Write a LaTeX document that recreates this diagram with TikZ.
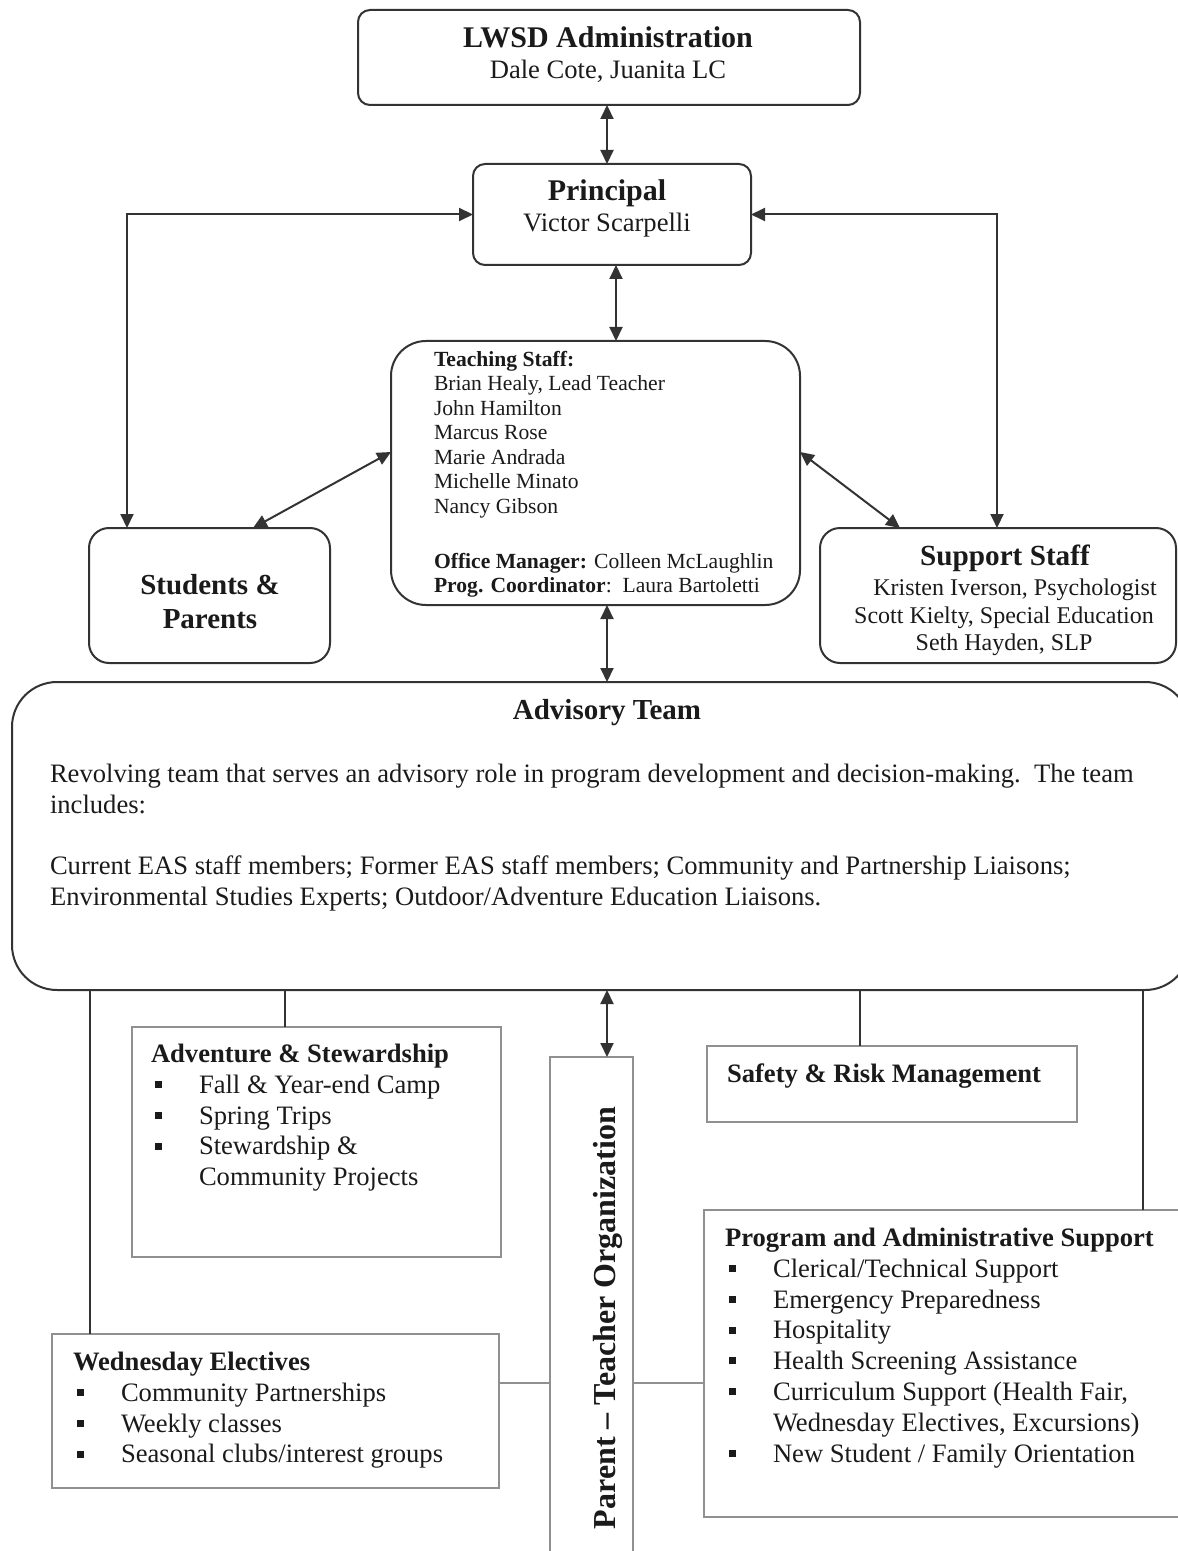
\documentclass[tikz,border=0pt]{standalone}
\usepackage{fontspec}
\setmainfont{Liberation Serif}
\usetikzlibrary{arrows.meta}
\definecolor{ln}{HTML}{333333}
\definecolor{gr}{HTML}{909090}
\definecolor{tx}{HTML}{1A1A1A}
\newcommand{\sqb}{\hspace*{2pt}\makebox[22pt][l]{\rule[0.2em]{3.5pt}{3.5pt}}}
\newcommand{\sqi}{\hspace*{24pt}}
\begin{document}
\begin{tikzpicture}[x=0.5pt,y=-0.5pt,
  rbox/.style={draw=ln,line width=1pt,rounded corners=#1,inner sep=0pt,outer sep=0pt},
  gbox/.style={draw=gr,line width=0.8pt,inner sep=0pt,outer sep=0pt},
  conn/.style={draw=ln,line width=1pt},
  dbl/.style={conn,{Triangle[length=7pt,width=6.5pt]}-{Triangle[length=7pt,width=6.5pt]}},
  glink/.style={draw=gr,line width=0.8pt},
  txt/.style={inner sep=0pt,outer sep=0pt,text=tx,align=left,font=\fontsize{13.3}{15.4}\selectfont},
  ttl/.style={txt,font=\bfseries\fontsize{15}{18}\selectfont},
  btl/.style={txt,font=\bfseries\fontsize{13.3}{15.4}\selectfont},
  small/.style={txt,font=\fontsize{10.8}{12.25}\selectfont},
  sub/.style={txt,font=\fontsize{12}{14}\selectfont}
]
\useasboundingbox (0,0) rectangle (1177,1551);

% helper coordinates
\coordinate (xs) at (607,0);
\coordinate (xp) at (616,0);
\coordinate (xl) at (127,0);
\coordinate (xr) at (997,0);
\coordinate (xa) at (253,0);
\coordinate (xb) at (900,0);
\coordinate (ya) at (0,452);
\coordinate (x1) at (90,0);
\coordinate (x2) at (285,0);
\coordinate (x3) at (860,0);
\coordinate (x4) at (1143,0);
\coordinate (yl) at (0,1383);

% boxes
\node[rbox=6pt,minimum width=251pt,minimum height=47.5pt] (lwsd) at (609,57.5) {};
\node[rbox=6pt,minimum width=139pt,minimum height=50.5pt] (princ) at (612,214.5) {};
\node[rbox=17.5pt,minimum width=204.5pt,minimum height=132pt] (teach) at (595.5,473) {};
\node[rbox=10pt,minimum width=120.5pt,minimum height=67.5pt] (stud) at (209.5,595.5) {};
\node[rbox=10pt,minimum width=178pt,minimum height=67.5pt] (supp) at (998,595.5) {};
\node[rbox=22.5pt,minimum width=589pt,minimum height=154pt] (adv) at (601,836) {};
\node[gbox,minimum width=184.5pt,minimum height=115pt] (advs) at (316.5,1142) {};
\node[gbox,minimum width=185pt,minimum height=38pt] (safe) at (892,1084) {};
\node[gbox,minimum width=243pt,minimum height=153.5pt] (prog) at (947,1363.5) {};
\node[gbox,minimum width=223.5pt,minimum height=77pt] (wed) at (275.5,1411) {};
\node[gbox,minimum width=41.5pt,minimum height=251.5pt] (pto) at (591.5,1308.5) {};

% connectors
\draw[dbl] (lwsd.south -| xs) -- (princ.north -| xs);
\draw[dbl] (princ.south -| xp) -- (teach.north -| xp);
\draw[dbl] (princ.west) -| (stud.north -| xl);
\draw[dbl] (princ.east) -| (supp.north -| xr);
\draw[dbl] (stud.north -| xa) -- (teach.west |- ya);
\draw[dbl] (teach.east |- ya) -- (supp.north -| xb);
\draw[dbl] (teach.south -| xs) -- (adv.north -| xs);
\draw[dbl] (adv.south -| xs) -- (pto.north -| xs);
\draw[conn] (adv.south -| x1) -- (wed.north -| x1);
\draw[conn] (adv.south -| x2) -- (advs.north -| x2);
\draw[conn] (adv.south -| x3) -- (safe.north -| x3);
\draw[conn] (adv.south -| x4) -- (prog.north -| x4);
\draw[glink] (wed.east |- yl) -- (pto.west |- yl);
\draw[glink] (pto.east |- yl) -- (prog.west |- yl);

% texts
\node[ttl,anchor=base] (t1) at (608,48) {LWSD Administration};
\node[txt,anchor=base] (t2) at (608,79) {Dale Cote, Juanita LC};
\node[ttl,anchor=base] (t3) at (607,201) {Principal};
\node[txt,anchor=base] (t4) at (607,232) {Victor Scarpelli};
\node[small,anchor=north west] (t5) at (434,351) {\textbf{Teaching Staff:}\\Brian Healy, Lead Teacher\\John Hamilton\\Marcus Rose\\Marie Andrada\\Michelle Minato\\Nancy Gibson\\[15.25pt]\textbf{Office Manager:} Colleen McLaughlin\\\textbf{Prog. Coordinator}:~~Laura Bartoletti};
\node[ttl,anchor=base,font=\bfseries\fontsize{14.5}{17}\selectfont] (t6) at (210,594) {Students \&};
\node[ttl,anchor=base,font=\bfseries\fontsize{14.5}{17}\selectfont] (t7) at (210,628) {Parents};
\node[ttl,anchor=base,font=\bfseries\fontsize{14.6}{17}\selectfont] (t8) at (1005,565) {Support Staff};
\node[sub,anchor=base] (t9) at (1015,595) {Kristen Iverson, Psychologist};
\node[sub,anchor=base] (t10) at (1004,623) {Scott Kielty, Special Education};
\node[sub,anchor=base] (t11) at (1004,650) {Seth Hayden, SLP};
\node[ttl,anchor=base,font=\bfseries\fontsize{14.5}{17}\selectfont] (t12) at (607,719) {Advisory Team};
\node[txt,anchor=north west] (t13) at (50,764) {Revolving team that serves an advisory role in program development and decision-making.\ \ The team\\includes:\\[15.4pt]Current EAS staff members; Former EAS staff members; Community and Partnership Liaisons;\\Environmental Studies Experts; Outdoor/Adventure Education Liaisons.};
\node[txt,anchor=north west] (t14) at (151,1044) {\textbf{Adventure \& Stewardship}\\\sqb Fall \& Year-end Camp\\\sqb Spring Trips\\\sqb Stewardship \&\\\sqi Community Projects};
\node[btl,anchor=base west] (t15) at (727,1082) {Safety \& Risk Management};
\node[txt,anchor=north west] (t16) at (725,1228) {\textbf{Program and Administrative Support}\\\sqb Clerical/Technical Support\\\sqb Emergency Preparedness\\\sqb Hospitality\\\sqb Health Screening Assistance\\\sqb Curriculum Support (Health Fair,\\\sqi Wednesday Electives, Excursions)\\\sqb New Student / Family Orientation};
\node[txt,anchor=north west] (t17) at (73,1352) {\textbf{Wednesday Electives}\\\sqb Community Partnerships\\\sqb Weekly classes\\\sqb Seasonal clubs/interest groups};
\node[ttl,rotate=90,font=\bfseries\fontsize{16}{18}\selectfont] (t18) at (608,1318) {Parent -- Teacher Organization};
\end{tikzpicture}
\end{document}
